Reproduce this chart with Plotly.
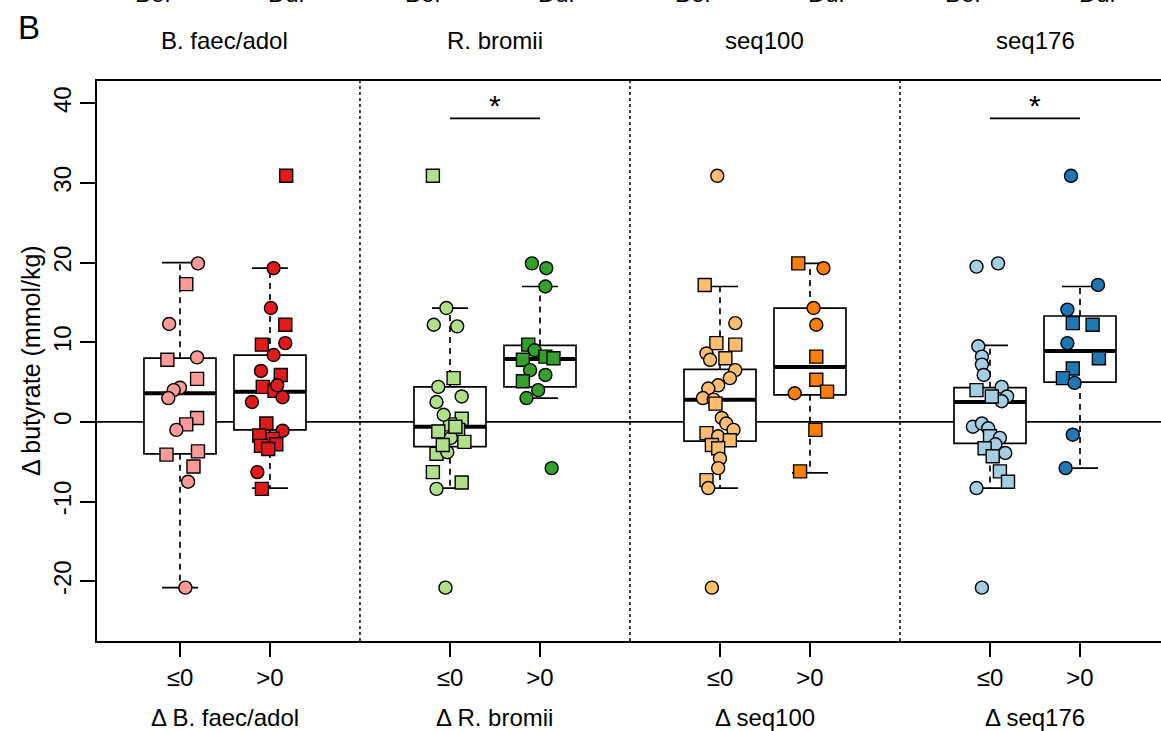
import plotly.graph_objects as go

# ---------------- data ----------------
panels = ["B. faec/adol", "R. bromii", "seq100", "seq176"]
bottom_labels = ["Δ B. faec/adol", "Δ R. bromii", "Δ seq100", "Δ seq176"]
group_labels = ["≤0", ">0"]
positions = [1, 2, 4, 5, 7, 8, 10, 11]
colors = ["#FB9A99", "#E31A1C", "#B2DF8A", "#33A02C",
          "#FDBF6F", "#FF7F00", "#A6CEE3", "#1F78B4"]

# box statistics per group (q1, median, q3, lower whisker, upper whisker)
box_q1 = [-4.0, -1.0, -3.1, 4.4, -2.4, 3.4, -2.7, 5.0]
box_med = [3.6, 3.8, -0.6, 7.9, 2.8, 6.9, 2.5, 8.9]
box_q3 = [8.0, 8.4, 4.4, 9.6, 6.6, 14.3, 4.3, 13.3]
box_lo = [-20.8, -8.3, -8.3, 3.0, -8.3, -6.4, -8.3, -5.8]
box_hi = [20.0, 19.3, 14.3, 17.0, 17.0, 19.9, 9.6, 17.0]

# individual points: jitter offset, value, shape (c=circle, s=square)
bf_le_dx = [0.20, 0.07, -0.12, -0.14, 0.19, 0.19, 0.00, -0.07, -0.13, 0.19, 0.07, -0.04, -0.15, 0.20, 0.15, 0.09, 0.06]
bf_le_y = [19.9, 17.3, 12.3, 7.8, 8.1, 5.4, 4.3, 4.0, 3.0, 0.5, -0.3, -1.0, -4.1, -3.7, -5.6, -7.5, -20.8]
bf_le_s = "cscscscccsscssscc"

bf_gt_dx = [0.04, 0.01, 0.17, -0.09, 0.17, 0.04, -0.10, 0.12, -0.08, 0.05, 0.14, -0.20, -0.04, 0.14, -0.12, 0.03, -0.10, 0.07, -0.14, -0.09, 0.18, -0.02, 0.08]
bf_gt_y = [19.3, 14.3, 12.2, 9.7, 9.9, 8.4, 6.4, 5.9, 4.4, 3.9, 3.1, 2.5, -0.2, -1.1, -1.7, -2.1, -3.0, -2.8, -6.3, -8.4, 30.9, -3.4, 4.6]
bf_gt_s = "ccsscccsssccscsssscsssc"

rb_le_dx = [-0.19, -0.04, -0.18, 0.08, 0.04, -0.13, 0.13, -0.15, 0.13, 0.00, -0.13, 0.09, 0.01, 0.16, -0.15, -0.03, -0.19, 0.13, -0.15, -0.05, -0.07, 0.06, -0.08]
rb_le_y = [30.9, 14.3, 12.2, 12.0, 5.5, 4.4, 3.2, 2.5, 0.4, -0.3, -1.2, -1.0, -2.0, -2.5, -4.0, -3.8, -6.3, -7.6, -8.4, -20.8, 0.9, -0.6, -2.9]
rb_le_s = "scccscccsssscsscsscccss"

rb_gt_dx = [-0.09, 0.07, 0.06, -0.13, -0.06, 0.06, 0.15, -0.19, -0.11, 0.06, -0.19, -0.02, -0.15, 0.13]
rb_gt_y = [19.9, 19.3, 17.0, 9.7, 9.0, 8.2, 8.0, 7.8, 6.5, 5.9, 5.1, 4.0, 3.0, -5.8]
rb_gt_s = "cccscsssccsccc"

s100_le_dx = [-0.03, -0.17, 0.17, -0.04, 0.17, -0.15, 0.06, -0.11, 0.17, 0.11, -0.02, -0.13, -0.19, -0.07, -0.05, 0.02, 0.07, 0.15, -0.15, -0.02, 0.11, -0.09, -0.02, 0.00, -0.02, -0.15, -0.13, -0.09]
s100_le_y = [30.9, 17.2, 12.4, 9.9, 9.7, 8.6, 8.0, 7.8, 6.5, 5.5, 4.6, 4.2, 3.0, 2.8, 2.3, 0.5, -0.2, -1.0, -1.4, -1.8, -2.3, -2.9, -3.3, -4.6, -5.8, -7.3, -8.3, -20.8]
s100_le_s = "cscsscscccccccscccscsssccscc"

s100_gt_dx = [-0.13, 0.15, 0.04, 0.07, 0.07, 0.07, -0.17, 0.19, 0.06, -0.11]
s100_gt_y = [19.9, 19.3, 14.3, 12.2, 8.2, 5.3, 3.6, 3.8, -1.0, -6.2]
s100_gt_s = "scccsscsss"

s176_le_dx = [-0.15, 0.09, -0.13, -0.09, -0.09, -0.07, -0.15, 0.13, 0.19, 0.13, 0.02, -0.19, -0.09, -0.02, 0.00, 0.11, 0.06, -0.06, 0.17, 0.11, 0.20, -0.15, 0.03, -0.09]
s176_le_y = [19.5, 19.9, 9.5, 8.2, 7.2, 5.9, 4.0, 4.4, 3.2, 2.6, 3.2, -0.6, -0.2, -0.8, -1.8, -2.0, -2.8, -3.3, -3.9, -6.2, -7.5, -8.3, -4.3, -20.8]
s176_le_s = "ccccccscccscccsccscsscsc"

s176_gt_dx = [0.20, -0.14, -0.08, 0.14, -0.14, 0.21, -0.08, -0.19, -0.06, -0.08, -0.16, -0.10]
s176_gt_y = [17.2, 14.1, 12.4, 12.2, 9.9, 8.0, 6.7, 5.5, 4.9, -1.6, -5.8, 30.9]
s176_gt_s = "ccsscssscccc"

point_dx = [bf_le_dx, bf_gt_dx, rb_le_dx, rb_gt_dx, s100_le_dx, s100_gt_dx, s176_le_dx, s176_gt_dx]
point_y = [bf_le_y, bf_gt_y, rb_le_y, rb_gt_y, s100_le_y, s100_gt_y, s176_le_y, s176_gt_y]
point_s = [bf_le_s, bf_gt_s, rb_le_s, rb_gt_s, s100_le_s, s100_gt_s, s176_le_s, s176_gt_s]

sig_groups = [1, 3]          # panels with a significant difference (0-based)
sig_level = 38.1
y_ticks = [-20, -10, 0, 10, 20, 30, 40]

# ---------------- figure ----------------
FONT = "Liberation Sans, Arial, Helvetica, sans-serif"
fig = go.Figure()

BOXW = 0.8
CAPW = 0.4

# boxes (body only; whiskers drawn separately so they can be dashed)
for i, p in enumerate(positions):
    fig.add_trace(go.Box(
        x=[p], q1=[box_q1[i]], median=[box_med[i]], q3=[box_q3[i]],
        lowerfence=[box_q1[i]], upperfence=[box_q3[i]],
        width=BOXW, whiskerwidth=0, fillcolor="white",
        line=dict(color="black", width=1.7), boxpoints=False,
        showlegend=False, hoverinfo="skip"))

# whiskers (dashed), caps (solid), thick medians
wx, wy, cx, cy, mx, my = [], [], [], [], [], []
for i, p in enumerate(positions):
    wx += [p, p, None, p, p, None]
    wy += [box_q3[i], box_hi[i], None, box_q1[i], box_lo[i], None]
    cx += [p - CAPW / 2, p + CAPW / 2, None, p - CAPW / 2, p + CAPW / 2, None]
    cy += [box_hi[i], box_hi[i], None, box_lo[i], box_lo[i], None]
    mx += [p - BOXW / 2, p + BOXW / 2, None]
    my += [box_med[i], box_med[i], None]
fig.add_trace(go.Scatter(x=wx, y=wy, mode="lines", showlegend=False, hoverinfo="skip",
                         line=dict(color="black", width=1.7, dash="6px,5px")))
fig.add_trace(go.Scatter(x=cx, y=cy, mode="lines", showlegend=False, hoverinfo="skip",
                         line=dict(color="black", width=1.7)))
fig.add_trace(go.Scatter(x=mx, y=my, mode="lines", showlegend=False, hoverinfo="skip",
                         line=dict(color="black", width=4)))

# points
for i, p in enumerate(positions):
    xs = [p + d for d in point_dx[i]]
    syms = ["square" if s == "s" else "circle" for s in point_s[i]]
    fig.add_trace(go.Scatter(
        x=xs, y=point_y[i], mode="markers", showlegend=False,
        marker=dict(color=colors[i], size=13, symbol=syms,
                    line=dict(color="black", width=1.4))))

# significance bars
for g in sig_groups:
    a, b = positions[2 * g], positions[2 * g + 1]
    fig.add_trace(go.Scatter(x=[a, b], y=[sig_level, sig_level], mode="lines",
                             showlegend=False, hoverinfo="skip",
                             line=dict(color="black", width=1.7)))
    fig.add_annotation(x=(a + b) / 2, y=sig_level, xref="x", yref="y", text="*",
                       showarrow=False, yanchor="bottom", yshift=-6,
                       font=dict(family=FONT, size=30, color="black"))

shapes = [dict(type="line", xref="paper", x0=0, x1=1, yref="y", y0=0, y1=0,
               line=dict(color="black", width=1.7), layer="below")]
for k in range(1, len(panels)):
    xs = (positions[2 * k - 1] + positions[2 * k]) / 2
    shapes.append(dict(type="line", xref="x", x0=xs, x1=xs, yref="paper", y0=0, y1=1,
                       line=dict(color="black", width=1.5, dash="dot")))

TXT = 24
ann = []
for k, name in enumerate(panels):
    c = (positions[2 * k] + positions[2 * k + 1]) / 2
    ann.append(dict(x=c, y=1.073, xref="x", yref="paper", text=name, showarrow=False,
                    yanchor="middle", font=dict(family=FONT, size=TXT, color="black")))
    ann.append(dict(x=c, y=-0.136, xref="x", yref="paper", text=bottom_labels[k],
                    showarrow=False, yanchor="middle",
                    font=dict(family=FONT, size=TXT, color="black")))
    ann.append(dict(x=c - 0.8, y=1.128, xref="x", yref="paper", text="Bef",
                    showarrow=False, yanchor="bottom",
                    font=dict(family=FONT, size=TXT, color="black")))
    ann.append(dict(x=c + 0.7, y=1.128, xref="x", yref="paper", text="Dur",
                    showarrow=False, yanchor="bottom",
                    font=dict(family=FONT, size=TXT, color="black")))
ann.append(dict(x=-0.064, y=1.095, xref="paper", yref="paper", text="B", showarrow=False,
                xanchor="center", yanchor="middle",
                font=dict(family=FONT, size=33, color="black")))
ann.append(dict(x=-0.062, y=0.5, xref="paper", yref="paper", text="Δ butyrate (mmol/kg)",
                showarrow=False, textangle=-90, xanchor="center", yanchor="middle",
                font=dict(family=FONT, size=25, color="black")))
for a in ann:
    fig.add_annotation(**a)

fig.update_layout(
    width=1161, height=731,
    margin=dict(l=97, r=0, t=81, b=90),
    paper_bgcolor="white", plot_bgcolor="white",
    showlegend=False, shapes=shapes, boxmode="overlay",
    font=dict(family=FONT, color="black"),
    xaxis=dict(range=[0.078, 11.9], showgrid=False, zeroline=False,
               showline=True, linecolor="black", linewidth=1.7, mirror=True,
               ticks="outside", ticklen=14, tickwidth=1.6, tickcolor="black",
               tickvals=positions, ticktext=group_labels * len(panels),
               tickfont=dict(family=FONT, size=TXT, color="black")),
    yaxis=dict(range=[-27.5, 42.8], showgrid=False, zeroline=False,
               showline=True, linecolor="black", linewidth=1.7, mirror=False,
               ticks="outside", ticklen=15, tickwidth=1.6, tickcolor="black",
               tickvals=y_ticks, ticktext=[str(v) for v in y_ticks], tickangle=-90,
               tickfont=dict(family=FONT, size=TXT, color="black")),
)

fig.write_html("out.html")
